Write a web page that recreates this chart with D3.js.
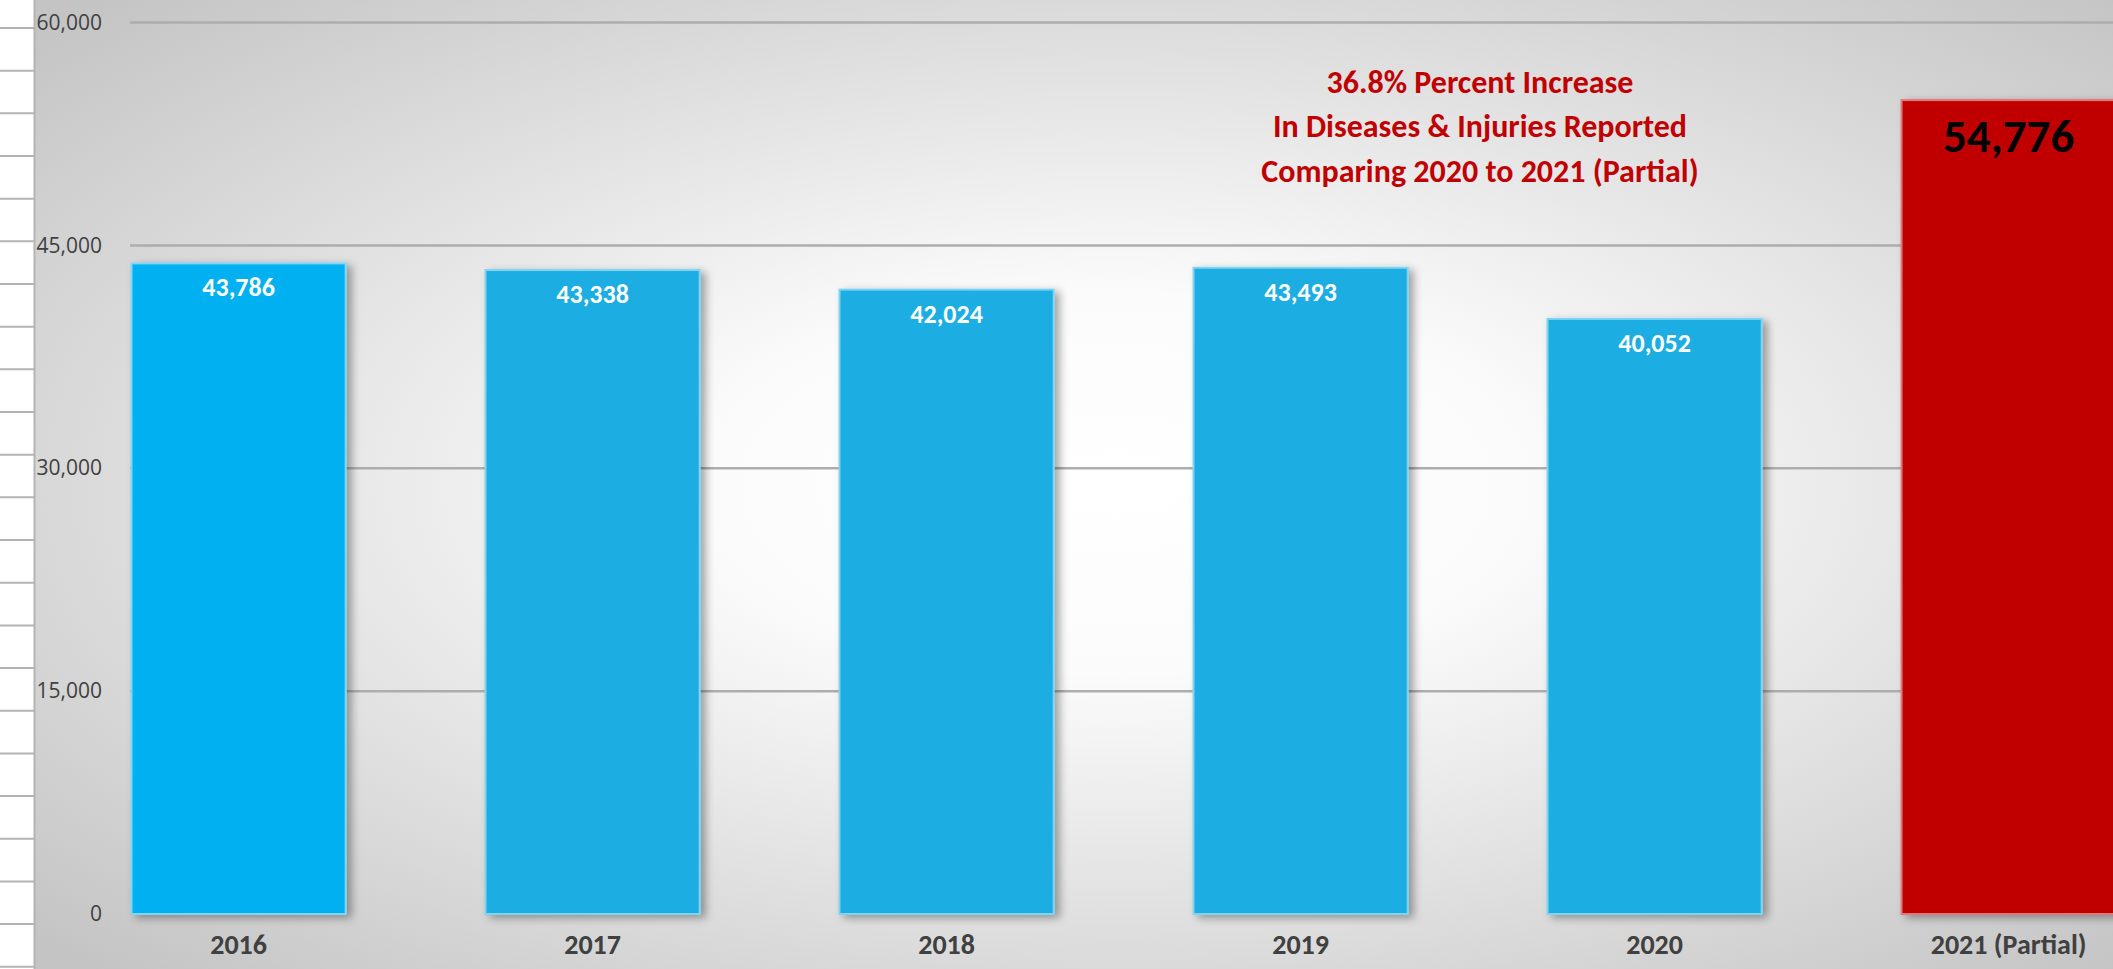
<!DOCTYPE html>
<html><head><meta charset="utf-8">
<script src="https://cdn.jsdelivr.net/npm/d3@7"></script>
<style>html,body{margin:0;padding:0;overflow:hidden;background:#fff}</style>
</head><body><svg id="c" width="2113" height="969"></svg>
<script>
const categories = ["2016", "2017", "2018", "2019", "2020", "2021 (Partial)"];
const values = [43786, 43338, 42024, 43493, 40052, 54776];
const yTicks = [0, 15000, 30000, 45000, 60000];
const annotationLines = ["36.8% Percent Increase", "In Diseases & Injuries Reported", "Comparing 2020 to 2021 (Partial)"];
const barFills = ["#00b0f0", "#1aade2", "#1aade2", "#1aade2", "#1aade2", "#c00000"];
const barStrokes = ["#7fd6f6", "#80d4f2", "#80d4f2", "#80d4f2", "#80d4f2", "#e07878"];

const W = 2113, H = 969;
const svg = d3.select("#c");
const defs = svg.append("defs");
const rg = defs.append("radialGradient").attr("id", "bg").attr("cx", "52%").attr("cy", "50%").attr("r", "70%")
  .attr("gradientUnits", "objectBoundingBox");
rg.append("stop").attr("offset", "0%").attr("stop-color", "#ffffff");
rg.append("stop").attr("offset", "28%").attr("stop-color", "#fbfbfb");
rg.append("stop").attr("offset", "100%").attr("stop-color", "#c4c4c4");
const sh = defs.append("filter").attr("id", "sh").attr("x", "-20%").attr("y", "-20%").attr("width", "140%").attr("height", "140%");
sh.append("feDropShadow").attr("dx", 5).attr("dy", 3).attr("stdDeviation", 4).attr("flood-color", "#000").attr("flood-opacity", 0.35);

// background
svg.append("rect").attr("x", 35).attr("y", 0).attr("width", W - 35).attr("height", H).attr("fill", "url(#bg)");
// left strip (spreadsheet cells)
svg.append("rect").attr("x", 0).attr("y", 0).attr("width", 34).attr("height", H).attr("fill", "#fff");
svg.append("g").selectAll("line").data(d3.range(28, H, 42.67)).join("line")
  .attr("x1", 0).attr("x2", 34).attr("y1", d => d).attr("y2", d => d)
  .attr("stroke", "#b4b4b4").attr("stroke-width", 2);
svg.append("line").attr("x1", 34.5).attr("x2", 34.5).attr("y1", 0).attr("y2", H).attr("stroke", "#b4b4b4").attr("stroke-width", 2);

const y = d3.scaleLinear().domain([0, 60000]).range([914, 22.5]);
const x = d3.scaleBand().domain(categories).range([60.7, 2186.5]).paddingInner(0.395).paddingOuter(0.2);

// gridlines
svg.append("g").selectAll("line").data(yTicks.filter(d => d > 0)).join("line")
  .attr("x1", 130).attr("x2", W).attr("y1", d => y(d)).attr("y2", d => y(d))
  .attr("stroke", "#adadad").attr("stroke-width", 2.5);

// y axis labels
const yAxis = d3.axisLeft(y).tickValues(yTicks).tickFormat(d3.format(",")).tickSize(0).tickPadding(0);
const ya = svg.append("g").attr("transform", "translate(102,0)").call(yAxis);
ya.select(".domain").remove();
ya.selectAll("text").attr("font-family", "'Open Sans', sans-serif").attr("font-size", 21).attr("fill", "#404040");

// bars
const data = categories.map((c, i) => ({c, v: values[i], i}));
svg.append("g").selectAll("rect").data(data).join("rect")
  .attr("x", d => x(d.c)).attr("y", d => y(d.v)).attr("width", x.bandwidth()).attr("height", d => y(0) - y(d.v))
  .attr("fill", d => barFills[d.i]).attr("stroke", d => barStrokes[d.i]).attr("stroke-width", 2)
  .attr("filter", "url(#sh)");

// baseline
svg.append("line").attr("x1", 128).attr("x2", W).attr("y1", y(0)).attr("y2", y(0))
  .attr("stroke", "#383838").attr("stroke-width", 4).attr("filter", "url(#sh)");

const fontC = "Carlito, Calibri, Lato, sans-serif";
// value labels
svg.append("g").selectAll("text").data(data).join("text")
  .attr("x", d => x(d.c) + x.bandwidth() / 2)
  .attr("y", d => y(d.v) + (d.i === 5 ? 52 : 33))
  .attr("text-anchor", "middle").attr("font-family", fontC).attr("font-weight", "bold")
  .attr("font-size", d => d.i === 5 ? 47 : 26)
  .attr("fill", d => d.i === 5 ? "#000" : "#fff")
  .text(d => d3.format(",")(d.v));

// x axis labels
const xAxis = d3.axisBottom(x).tickSize(0).tickPadding(0);
const xa = svg.append("g").attr("transform", "translate(0,954)").call(xAxis);
xa.select(".domain").remove();
xa.selectAll("text").attr("dy", 0).attr("font-family", fontC).attr("font-weight", "bold").attr("font-size", 28).attr("fill", "#404040");

// annotation
svg.append("g").selectAll("text").data(annotationLines).join("text")
  .attr("x", 1480).attr("y", (d, i) => 93 + i * 44.3)
  .attr("text-anchor", "middle").attr("font-family", fontC).attr("font-weight", "bold").attr("font-size", 32)
  .attr("fill", "#c00000").text(d => d);
</script></body></html>
